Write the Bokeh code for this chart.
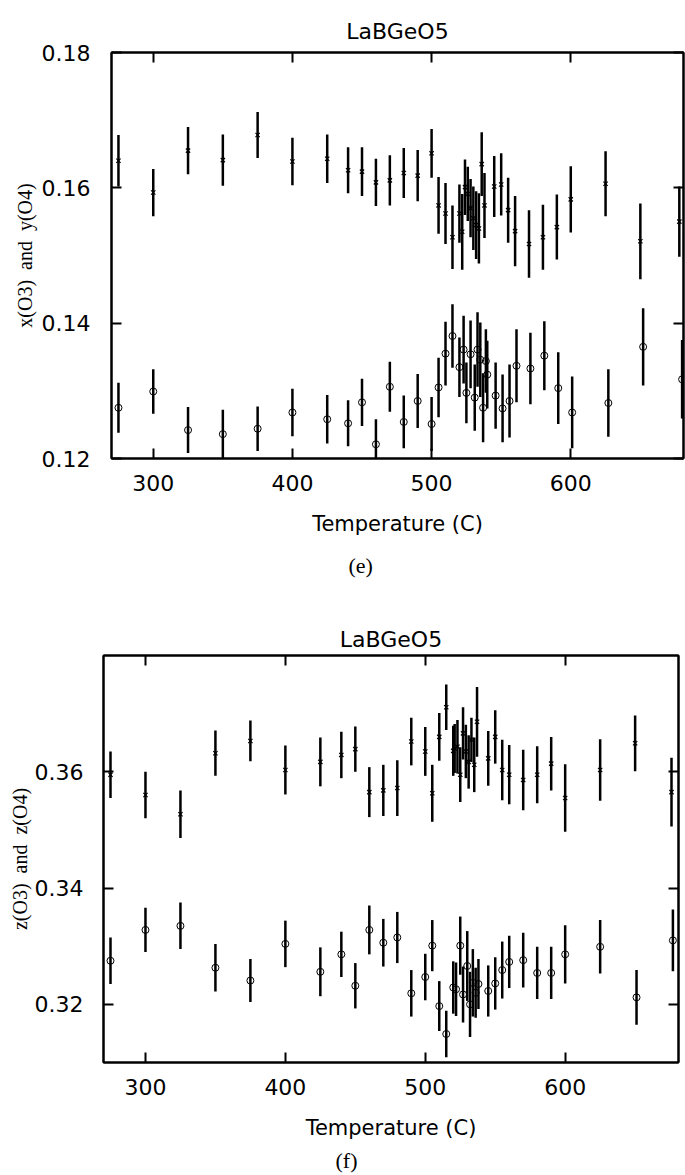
from bokeh.plotting import figure
from bokeh.models import Range1d, LinearAxis, FixedTicker, Title, ColumnDataSource, Spacer
from bokeh.layouts import column, row
from bokeh.embed import file_html
from bokeh.resources import INLINE

# ---------------- data: panel (e) ----------------
temp_e_upper = [275, 300, 325, 350, 375, 400, 425, 440, 450, 460,
                470, 480, 490, 500, 505, 510, 515, 520, 522, 524,
                526, 528, 530, 532, 534, 536, 538, 545, 550, 555,
                560, 570, 580, 590, 600, 625, 650, 678]
val_e_upper = [0.1640, 0.1593, 0.1655, 0.1641, 0.1678, 0.1639, 0.1643, 0.1626, 0.1624, 0.1608,
               0.1611, 0.1622, 0.1618, 0.1651, 0.1574, 0.1562, 0.1527, 0.1562, 0.1535, 0.1601,
               0.1591, 0.1570, 0.1555, 0.1545, 0.1540, 0.1635, 0.1574, 0.1602, 0.1605, 0.1567,
               0.1536, 0.1517, 0.1527, 0.1542, 0.1583, 0.1606, 0.1521, 0.1550]
err_e_upper = [0.0038, 0.0035, 0.0035, 0.0038, 0.0034, 0.0035, 0.0036, 0.0034, 0.0036, 0.0035,
               0.0037, 0.0037, 0.0038, 0.0036, 0.0042, 0.0045, 0.0047, 0.0043, 0.0056, 0.0041,
               0.0040, 0.0043, 0.0047, 0.0050, 0.0052, 0.0047, 0.0048, 0.0045, 0.0046, 0.0048,
               0.0052, 0.0050, 0.0048, 0.0048, 0.0049, 0.0048, 0.0056, 0.0052]

temp_e_lower = [275, 300, 325, 350, 375, 400, 425, 440, 450, 460,
                470, 480, 490, 500, 505, 510, 515, 520, 523, 525,
                528, 531, 533, 535, 537, 539, 540, 546, 551, 556,
                561, 571, 581, 591, 601, 627, 652, 680]
val_e_lower = [0.1275, 0.1299, 0.1242, 0.1236, 0.1244, 0.1268, 0.1258, 0.1252, 0.1283, 0.1221,
               0.1306, 0.1254, 0.1285, 0.1251, 0.1305, 0.1355, 0.1381, 0.1335, 0.1361, 0.1297,
               0.1354, 0.1290, 0.1361, 0.1346, 0.1275, 0.1344, 0.1324, 0.1293, 0.1274, 0.1285,
               0.1337, 0.1333, 0.1352, 0.1304, 0.1268, 0.1282, 0.1365, 0.1317]
err_e_lower = [0.0037, 0.0033, 0.0034, 0.0036, 0.0033, 0.0035, 0.0036, 0.0034, 0.0035, 0.0037,
               0.0037, 0.0039, 0.0040, 0.0040, 0.0044, 0.0047, 0.0047, 0.0044, 0.0050, 0.0045,
               0.0050, 0.0049, 0.0055, 0.0055, 0.0051, 0.0047, 0.0050, 0.0049, 0.0050, 0.0054,
               0.0054, 0.0053, 0.0051, 0.0053, 0.0053, 0.0050, 0.0057, 0.0058]

# ---------------- data: panel (f) ----------------
temp_f_upper = [275, 300, 325, 350, 375, 400, 425, 440, 450, 460,
                470, 480, 490, 500, 505, 510, 515, 520, 521, 523,
                525, 527, 529, 531, 533, 535, 537, 545, 550, 555,
                560, 570, 580, 590, 600, 625, 650, 676]
val_f_upper = [0.3595, 0.3560, 0.3527, 0.3632, 0.3653, 0.3603, 0.3617, 0.3629, 0.3639, 0.3565,
               0.3568, 0.3572, 0.3652, 0.3635, 0.3563, 0.3660, 0.3711, 0.3636, 0.3640, 0.3643,
               0.3595, 0.3666, 0.3635, 0.3617, 0.3655, 0.3612, 0.3686, 0.3623, 0.3660, 0.3603,
               0.3595, 0.3586, 0.3595, 0.3614, 0.3555, 0.3603, 0.3649, 0.3565]
err_f_upper = [0.0040, 0.0040, 0.0041, 0.0039, 0.0035, 0.0042, 0.0042, 0.0040, 0.0039, 0.0043,
               0.0044, 0.0048, 0.0041, 0.0042, 0.0049, 0.0041, 0.0039, 0.0043, 0.0042, 0.0046,
               0.0047, 0.0045, 0.0046, 0.0046, 0.0038, 0.0047, 0.0060, 0.0047, 0.0046, 0.0052,
               0.0051, 0.0052, 0.0049, 0.0046, 0.0058, 0.0053, 0.0048, 0.0059]

temp_f_lower = [275, 300, 325, 350, 375, 400, 425, 440, 450, 460,
                470, 480, 490, 500, 505, 510, 515, 520, 522, 525,
                527, 530, 532, 534, 536, 538, 545, 550, 555, 560,
                570, 580, 590, 600, 625, 651, 677]
val_f_lower = [0.3275, 0.3328, 0.3335, 0.3263, 0.3241, 0.3304, 0.3256, 0.3286, 0.3232, 0.3328,
               0.3306, 0.3315, 0.3219, 0.3247, 0.3301, 0.3197, 0.3149, 0.3229, 0.3226, 0.3301,
               0.3217, 0.3266, 0.3200, 0.3237, 0.3220, 0.3235, 0.3223, 0.3236, 0.3259, 0.3273,
               0.3276, 0.3254, 0.3254, 0.3286, 0.3299, 0.3212, 0.3310]
err_f_lower = [0.0040, 0.0038, 0.0040, 0.0041, 0.0037, 0.0040, 0.0042, 0.0039, 0.0039, 0.0042,
               0.0041, 0.0044, 0.0040, 0.0040, 0.0044, 0.0043, 0.0040, 0.0045, 0.0046, 0.0050,
               0.0048, 0.0060, 0.0056, 0.0058, 0.0043, 0.0043, 0.0044, 0.0045, 0.0049, 0.0045,
               0.0047, 0.0045, 0.0045, 0.0050, 0.0046, 0.0047, 0.0053]

x_ticks = [300, 400, 500, 600]
y_ticks_e = [0.12, 0.14, 0.16, 0.18]
y_ticks_f = [0.32, 0.34, 0.36]
NBSP = "\u00a0"
title_text = "LaBGeO5"
x_label = "Temperature (C)"
y_label_e = "x(O3)" + NBSP * 2 + "and" + NBSP * 2 + "y(O4)"
y_label_f = "z(O3)" + NBSP * 2 + "and" + NBSP * 2 + "z(O4)"

for a, b, c in [(temp_e_upper, val_e_upper, err_e_upper), (temp_e_lower, val_e_lower, err_e_lower),
                (temp_f_upper, val_f_upper, err_f_upper), (temp_f_lower, val_f_lower, err_f_lower)]:
    assert len(a) == len(b) == len(c), (len(a), len(b), len(c))

SANS = "DejaVu Sans"
SERIF = "Liberation Serif"


def style_axis(ax, ticks, labels=True, standoff=0):
    ax.ticker = FixedTicker(ticks=ticks)
    ax.major_tick_in = 10
    ax.major_tick_out = 0
    ax.minor_tick_line_color = None
    ax.axis_line_width = 2
    ax.axis_line_color = "black"
    ax.major_tick_line_width = 2
    ax.major_tick_line_color = "black"
    if labels:
        ax.major_label_text_font = SANS
        ax.major_label_text_font_size = "22px"
        ax.major_label_text_color = "black"
        ax.major_label_standoff = standoff
    else:
        ax.major_label_text_font_size = "0px"
        ax.major_label_text_color = None
        ax.major_label_standoff = 0


def errsource(t, v, e):
    return ColumnDataSource(dict(t=t, v=v,
                                 lo=[a - b for a, b in zip(v, e)],
                                 hi=[a + b for a, b in zip(v, e)]))


def panel(ylabel, yrange, yticks, caption, cap_offset, cap_stand, series, fw, fh,
          mbl, mbt, mbr, mbb, ystand, ylab_stand, title_stand):
    p = figure(frame_width=fw, frame_height=fh,
               x_range=Range1d(270, 681), y_range=Range1d(*yrange),
               output_backend="svg", toolbar_location=None,
               min_border_left=mbl, min_border_top=mbt,
               min_border_right=mbr, min_border_bottom=mbb,
               background_fill_color="white", border_fill_color="white",
               outline_line_color="black", outline_line_width=2,
               title=title_text)
    p.grid.visible = False
    p.title.text_font = SANS
    p.title.text_font_size = "22px"
    p.title.text_font_style = "normal"
    p.title.text_color = "black"
    p.title.align = "center"
    p.title.standoff = title_stand

    xa = p.xaxis[0]
    style_axis(xa, x_ticks, True, 16)
    xa.axis_label = x_label
    xa.axis_label_text_font = SANS
    xa.axis_label_text_font_size = "21px"
    xa.axis_label_text_font_style = "normal"
    xa.axis_label_text_color = "black"
    xa.axis_label_standoff = 18

    ya = p.yaxis[0]
    style_axis(ya, yticks, True, ystand)
    ya.axis_label = ylabel
    ya.axis_label_text_font = SERIF
    ya.axis_label_text_font_size = "20px"
    ya.axis_label_text_font_style = "normal"
    ya.axis_label_text_color = "black"
    ya.axis_label_standoff = ylab_stand

    top = LinearAxis()
    style_axis(top, x_ticks, False)
    p.add_layout(top, "above")
    right = LinearAxis()
    style_axis(right, yticks, False)
    p.add_layout(right, "right")

    (tu, vu, eu), (tl, vl, el) = series
    su = errsource(tu, vu, eu)
    sl = errsource(tl, vl, el)
    p.segment(x0="t", y0="lo", x1="t", y1="hi", source=su, line_width=2.5, line_color="black")
    p.scatter(x="t", y="v", source=su, marker="x", size=6, line_width=1.2, line_color="black")
    p.segment(x0="t", y0="lo", x1="t", y1="hi", source=sl, line_width=2.5, line_color="black")
    p.scatter(x="t", y="v", source=sl, marker="circle", size=7, line_width=1,
              line_color="black", fill_color=None)

    cap = Title(text=caption, align="left", offset=cap_offset, standoff=cap_stand,
                text_font=SERIF, text_font_size="22px", text_font_style="normal",
                text_color="black")
    p.add_layout(cap, "below")
    return p


p1 = panel(y_label_e, (0.12, 0.18), y_ticks_e, "(e)", 237, 24,
           [(temp_e_upper, val_e_upper, err_e_upper), (temp_e_lower, val_e_lower, err_e_lower)],
           572, 406, 103, 52, 2, 142, 21, 3, 18)
p2 = panel(y_label_f, (0.31, 0.38), y_ticks_f, "(f)", 232, 7,
           [(temp_f_upper, val_f_upper, err_f_upper), (temp_f_lower, val_f_lower, err_f_lower)],
           575, 407, 103, 55, 7, 113, 20, 1, 8)

layout = column(row(Spacer(width=8, height=600), p1, spacing=0), p2, spacing=0)
open("out.html", "w").write(file_html(layout, INLINE))
